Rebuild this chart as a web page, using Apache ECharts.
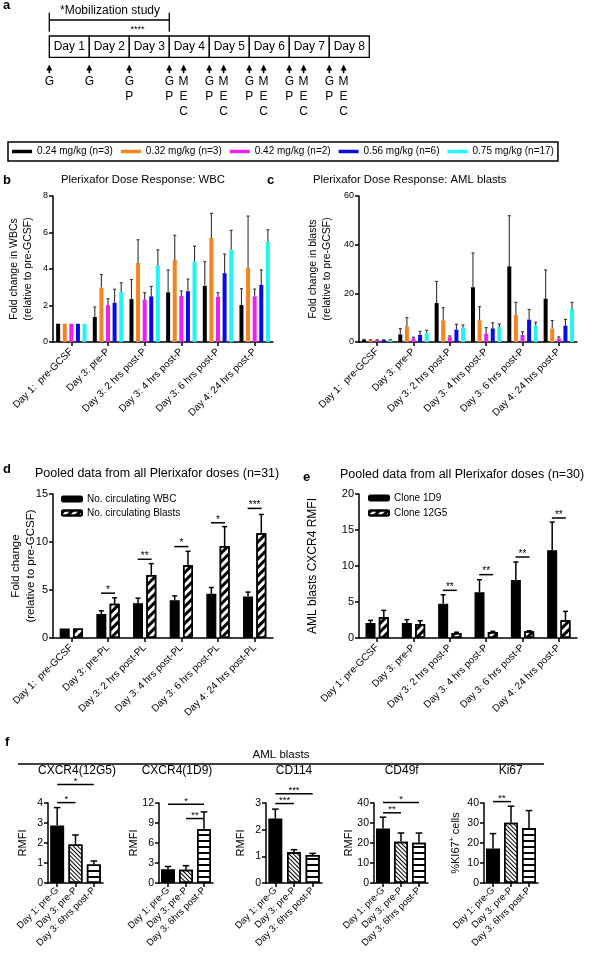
<!DOCTYPE html>
<html><head><meta charset="utf-8">
<script src="https://cdn.jsdelivr.net/npm/echarts@6/dist/echarts.min.js"></script>
<style>html,body{margin:0;padding:0;background:#fff}#c{width:598px;height:959px}</style>
</head><body><div id="c"></div>
<script>
const FONT = '"Liberation Sans", Arial, Helvetica, sans-serif';

// ---------- panel a (schematic) ----------
const days = ['Day 1','Day 2','Day 3','Day 4','Day 5','Day 6','Day 7','Day 8'];
const dayStartLetters = [['G'],['G'],['G','P'],['G','P'],['G','P'],['G','P'],['G','P'],['G','P']];
const mecDays = [3,4,5,6,7];
const mecLetters = ['M','E','C'];

// ---------- legend / doses ----------
const doseNames = ['0.24 mg/kg (n=3)','0.32 mg/kg (n=3)','0.42 mg/kg (n=2)','0.56 mg/kg (n=6)','0.75 mg/kg (n=17)'];
const doseColors = ['#000000','#f7831f','#f01ef0','#0a0ae6','#1ef5f5'];

// ---------- panel b: WBC fold change ----------
const catB = ['Day 1:  pre-GCSF','Day 3: pre-P','Day 3: 2 hrs post-P','Day 3: 4 hrs post-P','Day 3: 6 hrs post-P','Day 4: 24 hrs post-P'];
const wbc024 = [1, 1.37, 2.35, 2.72, 3.07, 2.03];
const wbc032 = [1, 2.98, 4.33, 4.50, 5.70, 4.08];
const wbc042 = [1, 2.02, 2.33, 2.52, 2.48, 2.50];
const wbc056 = [1, 2.15, 2.50, 2.78, 3.77, 3.13];
const wbc075 = [1, 2.74, 4.18, 4.42, 5.05, 5.48];
const wbc024Err = [0, 0.55, 1.07, 1.23, 1.33, 0.89];
const wbc032Err = [0, 0.72, 1.27, 1.35, 1.35, 2.82];
const wbc042Err = [0, 0.35, 0.37, 0.28, 0.22, 0.40];
const wbc056Err = [0, 0.74, 0.55, 0.67, 1.05, 0.82];
const wbc075Err = [0, 0.51, 0.87, 0.83, 1.07, 0.67];

// ---------- panel c: AML blasts fold change ----------
const bla024 = [0.9, 3.1, 16.0, 22.5, 31.1, 17.8];
const bla032 = [0.8, 6.4, 8.9, 9.0, 11.1, 5.5];
const bla042 = [0.8, 1.5, 2.0, 3.4, 2.9, 1.5];
const bla056 = [0.8, 2.9, 5.1, 5.6, 9.2, 6.7];
const bla075 = [0.8, 3.8, 5.9, 6.2, 6.8, 13.6];
const bla024Err = [0.2, 2.4, 8.9, 14.1, 20.8, 11.8];
const bla032Err = [0.1, 3.6, 5.2, 5.5, 5.2, 3.3];
const bla042Err = [0.1, 0.5, 0.5, 2.5, 1.3, 0.6];
const bla056Err = [0.1, 1.5, 2.2, 2.3, 4.2, 2.6];
const bla075Err = [0.1, 1.0, 1.1, 1.2, 1.3, 2.7];

// ---------- panel d: pooled ----------
const catD = ['Day 1:  pre-GCSF','Day 3: pre-PL','Day 3: 2 hrs post-PL','Day 3: 4 hrs post-PL','Day 3: 6 hrs post-PL','Day 4: 24 hrs post-PL'];
const pooledWbc = [1, 2.5, 3.63, 3.94, 4.6, 4.33];
const pooledWbcErr = [0, 0.34, 0.52, 0.45, 0.66, 0.45];
const pooledBlasts = [1, 3.56, 6.57, 7.58, 9.58, 10.9];
const pooledBlastsErr = [0, 0.63, 1.18, 1.45, 2.02, 1.97];
const sigDStars = ['', '*', '**', '*', '*', '***'];
const sigDLevels = [0, 4.67, 8.2, 9.52, 12.0, 13.5];

// ---------- panel e: CXCR4 clones ----------
const catE = ['Day 1: pre-GCSF','Day 3: pre-P','Day 3: 2 hrs post-P','Day 3: 4 hrs post-P','Day 3: 6 hrs post-P','Day 4: 24 hrs post-P'];
const clone1D9 = [2.08, 2.08, 4.77, 6.34, 8.06, 12.2];
const clone1D9Err = [0.37, 0.47, 1.23, 1.76, 2.5, 3.9];
const clone12G5 = [2.9, 1.94, 0.7, 0.83, 0.93, 2.45];
const clone12G5Err = [0.94, 0.46, 0.1, 0.09, 0.07, 1.25];
const sigEStars = ['', '', '**', '**', '**', '**'];
const sigELevels = [0, 0, 6.62, 8.8, 11.25, 16.67];

// ---------- panel f ----------
const catF = ['Day 1: pre-G','Day 3: pre-P','Day 3: 6hrs post-P'];
const fTitles = ['CXCR4(12G5)','CXCR4(1D9)','CD114','CD49f','Ki67'];
const fMax = [4, 12, 3, 40, 40];
const fInterval = [1, 3, 1, 10, 10];
const cxcr4_12G5 = [2.87, 1.93, 0.92];
const cxcr4_12G5Err = [0.9, 0.47, 0.18];
const cxcr4_1D9 = [2.08, 1.98, 8.08];
const cxcr4_1D9Err = [0.4, 0.62, 2.58];
const cd114 = [2.42, 1.15, 1.05];
const cd114Err = [0.35, 0.1, 0.06];
const cd49f = [27.2, 20.6, 20.1];
const cd49fErr = [5.7, 4.4, 4.9];
const ki67 = [17.3, 30.1, 27.5];
const ki67Err = [7.4, 8.3, 8.7];
const fSig = [
  [[0,2,4.93,'*'],[0,1,4.02,'*']],
  [[0,2,11.8,'*'],[1,2,9.67,'**']],
  [[0,2,3.35,'***'],[0,1,2.98,'***']],
  [[0,2,40.3,'*'],[0,1,35.1,'**']],
  [[0,1,40.7,'**']]
];

// ================= build =================
const chart = echarts.init(document.getElementById('c'), null, {renderer:'canvas', width:598, height:959});

const grids = [
  {left:53, top:196, width:220, height:146},
  {left:359, top:196, width:218, height:146},
  {left:53, top:494, width:220, height:144},
  {left:359, top:494, width:218, height:144},
  {left:48, top:803, width:55, height:80},
  {left:159, top:803, width:54, height:80},
  {left:266, top:803, width:56, height:80},
  {left:374, top:803, width:54, height:80},
  {left:484, top:803, width:54, height:80}
].map(g => Object.assign({outerBoundsMode:'none', containLabel:false}, g));

const axLine = {show:true, onZero:false, lineStyle:{color:'#000', width:1.5}};
const axTick = {show:true, length:4, lineStyle:{color:'#000', width:1.5}};
function xCat(gi, data, fs, margin) {
  return {type:'category', gridIndex:gi, data, axisLine:axLine,
    axisTick:Object.assign({alignWithLabel:true}, axTick),
    axisLabel:{rotate:45, interval:0, fontSize:fs, color:'#000', fontFamily:FONT, margin:margin},
    splitLine:{show:false}};
}
function yVal(gi, max, interval, name, nameGap, fs, nfs, rich) {
  const o = {type:'value', gridIndex:gi, min:0, max, interval, axisLine:axLine, axisTick:axTick,
    axisLabel:{fontSize:fs, color:'#000', fontFamily:FONT, margin:5},
    splitLine:{show:false}, name, nameLocation:'middle', nameGap, nameRotate:90, nameMoveOverlap:false,
    nameTextStyle:{fontSize:nfs, color:'#000', fontFamily:FONT, lineHeight:nfs*1.35}};
  if (rich) o.nameTextStyle.rich = rich;
  return o;
}

const xAxis = [xCat(0, catB, 10, 8), xCat(1, catB, 10, 8), xCat(2, catD, 10, 8), xCat(3, catE, 10, 8)];
const yAxis = [
  yVal(0, 8, 2, 'Fold change in WBCs\n(relative to pre-GCSF)', 18, 9, 10.5),
  yVal(1, 60, 20, 'Fold change in blasts\n(relative to pre-GCSF)', 25, 9, 10.5),
  yVal(2, 15, 5, 'Fold change\n(relative to pre-GCSF)', 14, 11, 11.5),
  yVal(3, 20, 5, 'AML blasts CXCR4 RMFI', 38, 11, 12)
];
const kiRich = {a:{fontSize:11, fontFamily:FONT, color:'#000'}, s:{fontSize:7, fontFamily:FONT, color:'#000', verticalAlign:'top', padding:[0,0,6,0]}};
for (let i = 0; i < 5; i++) {
  xAxis.push(xCat(4+i, catF, 9.5, 6));
  const nm = i === 4 ? '{a|%KI67}{s|+}{a| cells}' : 'RMFI';
  yAxis.push(yVal(4+i, fMax[i], fInterval[i], nm, i === 4 ? 21 : 18, 10.5, 11, i === 4 ? kiRich : null));
}

function offsetFor(i, n, w, g) { return (i - (n-1)/2) * (w + g); }
function errSeries(ax, means, errs, offset, cap, color, lw) {
  return {type:'custom', xAxisIndex:ax, yAxisIndex:ax, silent:true, z:3, clip:false,
    data: means.map((m,k)=>[k, m, m + errs[k]]),
    encode:{x:0, y:[1,2]},
    renderItem:(params, api)=>{
      const k = api.value(0), m = api.value(1), t = api.value(2);
      if (!(t - m > 0)) return null;
      const p0 = api.coord([k, m]), p1 = api.coord([k, t]);
      const x = p0[0] + offset;
      return {type:'group', children:[
        {type:'line', shape:{x1:x, y1:p0[1], x2:x, y2:p1[1]}, style:{stroke:color, lineWidth:lw}},
        {type:'line', shape:{x1:x-cap, y1:p1[1], x2:x+cap, y2:p1[1]}, style:{stroke:color, lineWidth:lw}}
      ]};
    }};
}
function sigSeries(ax, items, fs) {
  return {type:'custom', xAxisIndex:ax, yAxisIndex:ax, silent:true, z:4, clip:false,
    data: items.map(it=>[it.a, it.y]),
    encode:{x:0, y:1},
    renderItem:(params, api)=>{
      const it = items[params.dataIndex];
      const pa = api.coord([it.a, it.y]), pb = api.coord([it.b, it.y]);
      const x1 = pa[0] + (it.da||0), x2 = pb[0] + (it.db||0), y = pa[1];
      return {type:'group', children:[
        {type:'line', shape:{x1, y1:y, x2, y2:y}, style:{stroke:'#000', lineWidth:1.5}},
        {type:'text', style:{text:it.t, x:(x1+x2)/2, y:y+2, align:'center', verticalAlign:'bottom', fontSize:fs, fontFamily:FONT, fill:'#000'}}
      ]};
    }};
}

const series = [];
const wbcMeans = [wbc024, wbc032, wbc042, wbc056, wbc075];
const wbcErrs = [wbc024Err, wbc032Err, wbc042Err, wbc056Err, wbc075Err];
const blaMeans = [bla024, bla032, bla042, bla056, bla075];
const blaErrs = [bla024Err, bla032Err, bla042Err, bla056Err, bla075Err];
[[0, wbcMeans, wbcErrs], [1, blaMeans, blaErrs]].forEach(([ax, means, errs]) => {
  doseNames.forEach((n, i) => {
    series.push({type:'bar', name:n, xAxisIndex:ax, yAxisIndex:ax, data:means[i], barWidth:4, barGap:'65%',
      itemStyle:{color:doseColors[i]}, silent:true, z:2});
    series.push(errSeries(ax, means[i], errs[i], offsetFor(i,5,4,2.6), 1.5, '#333', 1.1));
  });
});

const hatchD = {symbol:'rect', symbolSize:1, color:'#000', dashArrayX:[1,0], dashArrayY:[3,3], rotation:-Math.PI/4};
const hatchF = {symbol:'rect', symbolSize:1, color:'#000', dashArrayX:[1,0], dashArrayY:[1,1.6], rotation:Math.PI/4};
const stripeF = {symbol:'rect', symbolSize:1, color:'#000', dashArrayX:[1,0], dashArrayY:[1.2,4], rotation:0};

// d
series.push({type:'bar', name:'No. circulating WBC', xAxisIndex:2, yAxisIndex:2, data:pooledWbc, barWidth:10, barGap:'33%',
  itemStyle:{color:'#000', borderColor:'#000', borderWidth:1.2}, silent:true, z:2});
series.push({type:'bar', name:'No. circulating Blasts', xAxisIndex:2, yAxisIndex:2, data:pooledBlasts, barWidth:10, barGap:'33%',
  itemStyle:{color:'#fff', borderColor:'#000', borderWidth:1.5, decal:hatchD}, silent:true, z:2});
series.push(errSeries(2, pooledWbc, pooledWbcErr, offsetFor(0,2,10,3.3), 2.5, '#000', 1.5));
series.push(errSeries(2, pooledBlasts, pooledBlastsErr, offsetFor(1,2,10,3.3), 2.5, '#000', 1.5));
series.push(sigSeries(2, sigDStars.map((t,k)=>({a:k, b:k, da:-7, db:7, y:sigDLevels[k], t})).filter(o=>o.t), 10));

// e
series.push({type:'bar', name:'Clone 1D9', xAxisIndex:3, yAxisIndex:3, data:clone1D9, barWidth:10, barGap:'33%',
  itemStyle:{color:'#000', borderColor:'#000', borderWidth:1.2}, silent:true, z:2});
series.push({type:'bar', name:'Clone 12G5', xAxisIndex:3, yAxisIndex:3, data:clone12G5, barWidth:10, barGap:'33%',
  itemStyle:{color:'#fff', borderColor:'#000', borderWidth:1.5, decal:hatchD}, silent:true, z:2});
series.push(errSeries(3, clone1D9, clone1D9Err, offsetFor(0,2,10,3.3), 2.5, '#000', 1.5));
series.push(errSeries(3, clone12G5, clone12G5Err, offsetFor(1,2,10,3.3), 2.5, '#000', 1.5));
series.push(sigSeries(3, sigEStars.map((t,k)=>({a:k, b:k, da:-7, db:7, y:sigELevels[k], t})).filter(o=>o.t), 10));

// f
const fMeans = [cxcr4_12G5, cxcr4_1D9, cd114, cd49f, ki67];
const fErrs = [cxcr4_12G5Err, cxcr4_1D9Err, cd114Err, cd49fErr, ki67Err];
const fStyles = [{color:'#000'}, {color:'#fff', decal:hatchF}, {color:'#fff', decal:stripeF}];
for (let i = 0; i < 5; i++) {
  series.push({type:'bar', xAxisIndex:4+i, yAxisIndex:4+i, barWidth:14, silent:true, z:2,
    data: fMeans[i].map((v,k)=>({value:v, itemStyle:Object.assign({borderColor:'#000', borderWidth:1.5}, fStyles[k])}))});
  series.push(errSeries(4+i, fMeans[i], fErrs[i], 0, 3.3, '#000', 1.5));
  series.push(sigSeries(4+i, fSig[i].map(s=>({a:s[0], b:s[1], y:s[2], t:s[3]})), 9.5));
}

// ---------- graphic: panel a, titles, letters ----------
const gfx = [];
function txt(text, x, y, size, opts) {
  gfx.push({type:'text', silent:true, style:Object.assign({text, x, y, fontSize:size, fontFamily:FONT, fill:'#000', align:'left', verticalAlign:'middle'}, opts||{})});
}
function ln(x1,y1,x2,y2,w) {
  gfx.push({type:'line', silent:true, shape:{x1,y1,x2,y2}, style:{stroke:'#000', lineWidth:w||1.3}});
}
const bx0 = 49.3, bw = 40, by = 36, bh = 21.3;
days.forEach((d,i)=>{
  gfx.push({type:'rect', silent:true, shape:{x:bx0+i*bw, y:by, width:bw, height:bh}, style:{fill:'#fff', stroke:'#000', lineWidth:1.3}});
  txt(d, bx0+i*bw+bw/2, by+bh/2+0.5, 12, {align:'center'});
});
function arrow(x, letters) {
  gfx.push({type:'polygon', silent:true, shape:{points:[[x,64.5],[x-3,70.5],[x+3,70.5]]}, style:{fill:'#000'}});
  ln(x, 70, x, 73.2, 1.6);
  letters.forEach((l,k)=>txt(l, x, 81.5 + k*15, 12, {align:'center'}));
}
dayStartLetters.forEach((ls,i)=>arrow(bx0+i*bw, ls));
mecDays.forEach(i=>arrow(bx0+i*bw+14.3, mecLetters));
ln(bx0, 12.7, bx0, 31.7, 1.3);
ln(bx0+3*bw, 12.7, bx0+3*bw, 31.7, 1.3);
ln(bx0, 20, bx0+3*bw, 20, 1.3);
txt('*Mobilization study', 110, 11, 12, {align:'center'});
txt('****', 137.5, 30, 9, {align:'center'});

txt('a', 3, 5, 13, {fontWeight:'bold'});
txt('b', 3, 180, 13, {fontWeight:'bold'});
txt('c', 267, 180, 13, {fontWeight:'bold'});
txt('d', 3, 469, 13, {fontWeight:'bold'});
txt('e', 303, 477, 13, {fontWeight:'bold'});
txt('f', 5, 742, 13, {fontWeight:'bold'});
txt('Plerixafor Dose Response: WBC', 61, 180, 11.3);
txt('Plerixafor Dose Response: AML blasts', 313, 180, 11.3);
txt('Pooled data from all Plerixafor doses (n=31)', 35, 474, 12.5);
txt('Pooled data from all Plerixafor doses (n=30)', 340, 475, 12.5);
txt('AML blasts', 281, 755, 11.5, {align:'center'});
ln(18, 764, 544, 764, 1.5);
const fTitleX = [77, 177, 294, 401.7, 510.7];
fTitles.forEach((t,i)=>txt(t, fTitleX[i], 771, 12, {align:'center'}));

const option = {
  animation:false,
  backgroundColor:'#fff',
  textStyle:{fontFamily:FONT},
  grid: grids,
  xAxis, yAxis, series,
  legend:[
    {data:doseNames, left:8, top:142, orient:'horizontal', icon:'rect', itemWidth:20, itemHeight:3.5, itemGap:8,
     padding:[4.5,4], borderColor:'#000', borderWidth:1.5, selectedMode:false,
     textStyle:{fontSize:10, fontFamily:FONT, color:'#000'}},
    {data:['No. circulating WBC','No. circulating Blasts'], left:61, top:494, orient:'vertical', icon:'roundRect',
     itemWidth:20, itemHeight:5, itemGap:4, padding:0, selectedMode:false,
     textStyle:{fontSize:10, fontFamily:FONT, color:'#000'}},
    {data:['Clone 1D9','Clone 12G5'], left:368, top:493, orient:'vertical', icon:'roundRect',
     itemWidth:20, itemHeight:5, itemGap:5, padding:0, selectedMode:false,
     textStyle:{fontSize:10, fontFamily:FONT, color:'#000'}}
  ],
  graphic: gfx
};
chart.setOption(option);
</script></body></html>
